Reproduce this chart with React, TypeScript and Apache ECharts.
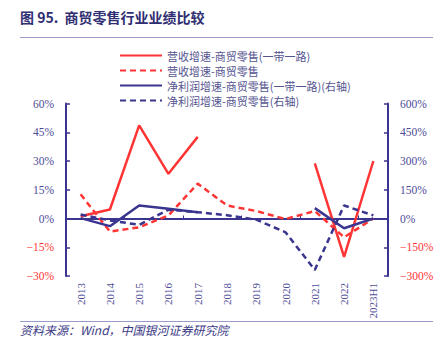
import React, { useEffect, useRef } from "react";
import * as echarts from "echarts";

const categories = ["2013", "2014", "2015", "2016", "2017", "2018", "2019", "2020", "2021", "2022", "2023H1"];
const revenueBR = [1.2, 4.7, 48.6, 23.3, 42.6, null, null, null, 28.7, -20, 30];
const revenueAll = [12.6, -6.8, -4.6, 1.6, 18.2, 6.8, 3.9, -0.3, 3.9, -9.8, 0];
const profitBR = [2, -40, 68, 51, 33, null, null, null, 54, -51, 0];
const profitAll = [21, -10, -33, 46, 33, 17, -6, -72, -268, 68, 16];
const leftTicks = { min: -30, max: 60, interval: 15 };
const rightTicks = { min: -300, max: 600, interval: 150 };

const RED = "#FF3535";
const NAVY = "#3A358F";
const LABEL = "#4D4B97";
const SERIF = "'Liberation Serif', 'Noto Sans CJK SC', serif";
const CJK = "'Noto Sans CJK SC', sans-serif";

const names = [
  "营收增速-商贸零售(一带一路)",
  "营收增速-商贸零售",
  "净利润增速-商贸零售(一带一路)(右轴)",
  "净利润增速-商贸零售(右轴)",
];

function fmt(v: number) {
  const s = Math.abs(v) + "%";
  return v < 0 ? "{n|\u2212" + s + "}" : "{p|" + s + "}";
}

export default function App() {
  const ref = useRef<HTMLDivElement>(null);
  useEffect(() => {
    if (!ref.current) return;
    const chart = echarts.init(ref.current, null, { renderer: "svg" });
    const yAxisCommon = (side: "left" | "right", t: any) => ({
      type: "value",
      position: side,
      min: t.min,
      max: t.max,
      interval: t.interval,
      splitLine: { show: false },
      axisLine: { show: true, lineStyle: { color: NAVY, width: 2 } },
      axisTick: { show: true, inside: true, length: 4, lineStyle: { color: NAVY, width: 1.5 } },
      axisLabel: {
        margin: 12,
        formatter: (v: number) => fmt(v),
        rich: {
          p: { color: LABEL, fontFamily: SERIF, fontSize: 11.5 },
          n: { color: RED, fontFamily: SERIF, fontSize: 11.5 },
        },
      },
    });
    const mk = (i: number, data: any[], color: string, dashed: boolean, yIdx: number) => ({
      name: names[i],
      type: "line",
      xAxisIndex: 0,
      yAxisIndex: yIdx,
      data,
      symbol: "none",
      showSymbol: false,
      connectNulls: false,
      lineStyle: { color, width: 2.5, type: dashed ? [6, 4] : "solid" },
      itemStyle: { color },
    });
    chart.setOption({
      animation: false,
      grid: { left: 66, right: 54, top: 103.5, bottom: 77, containLabel: false },
      legend: {
        orient: "vertical",
        left: 114,
        top: 44,
        itemWidth: 42,
        itemHeight: 15,
        itemGap: 2,
        itemStyle: { opacity: 0 },
        textStyle: { fontFamily: CJK, fontSize: 11, lineHeight: 13, color: "#55548F" },
        data: names,
      },
      xAxis: [
        {
          type: "category",
          data: categories,
          boundaryGap: true,
          axisLine: { show: true, onZero: true, lineStyle: { color: NAVY, width: 2 } },
          axisTick: { show: true, inside: true, length: 3, alignWithLabel: false, lineStyle: { color: NAVY, width: 1 } },
          axisLabel: { show: false },
        },
        {
          type: "category",
          data: categories,
          position: "bottom",
          boundaryGap: true,
          axisLine: { show: false, onZero: false },
          axisTick: { show: false },
          axisLabel: { rotate: 90, margin: 7, color: LABEL, fontFamily: SERIF, fontSize: 11, interval: 0 },
        },
      ],
      yAxis: [yAxisCommon("left", leftTicks), yAxisCommon("right", rightTicks)],
      series: [
        mk(0, revenueBR, RED, false, 0),
        mk(1, revenueAll, RED, true, 0),
        mk(2, profitBR, NAVY, false, 1),
        mk(3, profitAll, NAVY, true, 1),
      ],
      graphic: [
        {
          type: "text",
          left: 20,
          top: 10,
          style: { text: "图 95.  商贸零售行业业绩比较", fontFamily: CJK, fontSize: 14, fontWeight: "bold", fill: "#2F2E72" },
        },
        { type: "line", shape: { x1: 20, y1: 37.5, x2: 433, y2: 37.5 }, style: { stroke: "#9C9AC9", lineWidth: 1 } },
        { type: "line", shape: { x1: 20, y1: 321.5, x2: 433, y2: 321.5 }, style: { stroke: "#9C9AC9", lineWidth: 1 } },
        {
          type: "text",
          left: 20,
          top: 323,
          style: { text: "资料来源：Wind，中国银河证券研究院", fontFamily: CJK, fontSize: 12, fontStyle: "italic", fill: "#3B3A85" },
        },
      ],
    });
    return () => chart.dispose();
  }, []);
  return <div ref={ref} style={{ width: 442, height: 353, position: "absolute", left: 0, top: 0 }} />;
}
